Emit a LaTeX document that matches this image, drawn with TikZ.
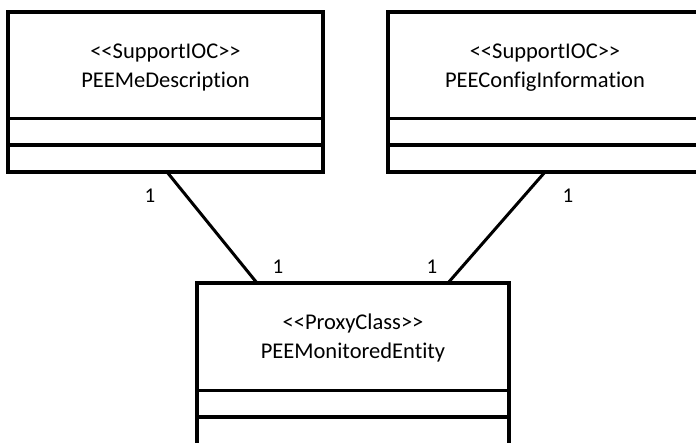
\documentclass[tikz,border=0pt]{standalone}
\usepackage{fontspec}
\setmainfont{Carlito}[Ligatures={NoCommon}]
\newcommand\ltt{\char"3C\relax}
\newcommand\gtt{\char"3E\relax}
\begin{document}
\begin{tikzpicture}[x=1pt,y=-1pt,
  classbox/.style={draw=black,line width=4pt,fill=white},
  div1/.style={line width=3pt},
  div2/.style={line width=4.5pt},
  assoc/.style={line width=3pt},
  lbl/.style={font=\fontsize{22.5}{26}\selectfont,inner sep=0pt,anchor=base},
  mult/.style={font=\fontsize{21}{24}\selectfont,inner sep=0pt}]
\useasboundingbox (0,0) rectangle (696,443);
\begin{scope}
\clip (0,0) rectangle (696,443);
% left class
\draw[classbox] (8,12) rectangle (323,172);
\node (L) at (165.5,92) [minimum width=315pt,minimum height=160pt,inner sep=0pt] {};
\draw[div1] (8,119) -- (323,119);
\draw[div2] (8,145) -- (323,145);
\node[lbl] (Ls) at (165.5,59) {\ltt\ltt SupportIOC\gtt\gtt};
\node[lbl] (Ln) at (165.5,88) {PEEMeDescription};
% right class
\draw[classbox] (388,12) rectangle (705,172);
\node (R) at (546.5,92) [minimum width=317pt,minimum height=160pt,inner sep=0pt] {};
\draw[div1] (388,119) -- (705,119);
\draw[div2] (388,145) -- (705,145);
\node[lbl] (Rs) at (545,59) {\ltt\ltt SupportIOC\gtt\gtt};
\node[lbl] (Rn) at (545,88) {PEEConfigInformation};
% bottom class
\draw[classbox] (197,283) rectangle (509,455);
\node (B) at (353,369) [minimum width=312pt,minimum height=172pt,inner sep=0pt] {};
\draw[div1] (197,391) -- (509,391);
\draw[div2] (197,417) -- (509,417);
\node[lbl] (Bs) at (353,330) {\ltt\ltt ProxyClass\gtt\gtt};
\node[lbl] (Bn) at (353,359) {PEEMonitoredEntity};
\end{scope}
% connectors
\coordinate (l1) at (167,172);
\coordinate (l2) at (257,283);
\coordinate (r1) at (545,172);
\coordinate (r2) at (448,283);
\draw[assoc] (l1) -- (l2);
\draw[assoc] (r1) -- (r2);
% multiplicities
\node[mult] (m1) at (150,196) {1};
\node[mult] (m2) at (278,267) {1};
\node[mult] (m3) at (432,267) {1};
\node[mult] (m4) at (568,196) {1};
\end{tikzpicture}
\end{document}
